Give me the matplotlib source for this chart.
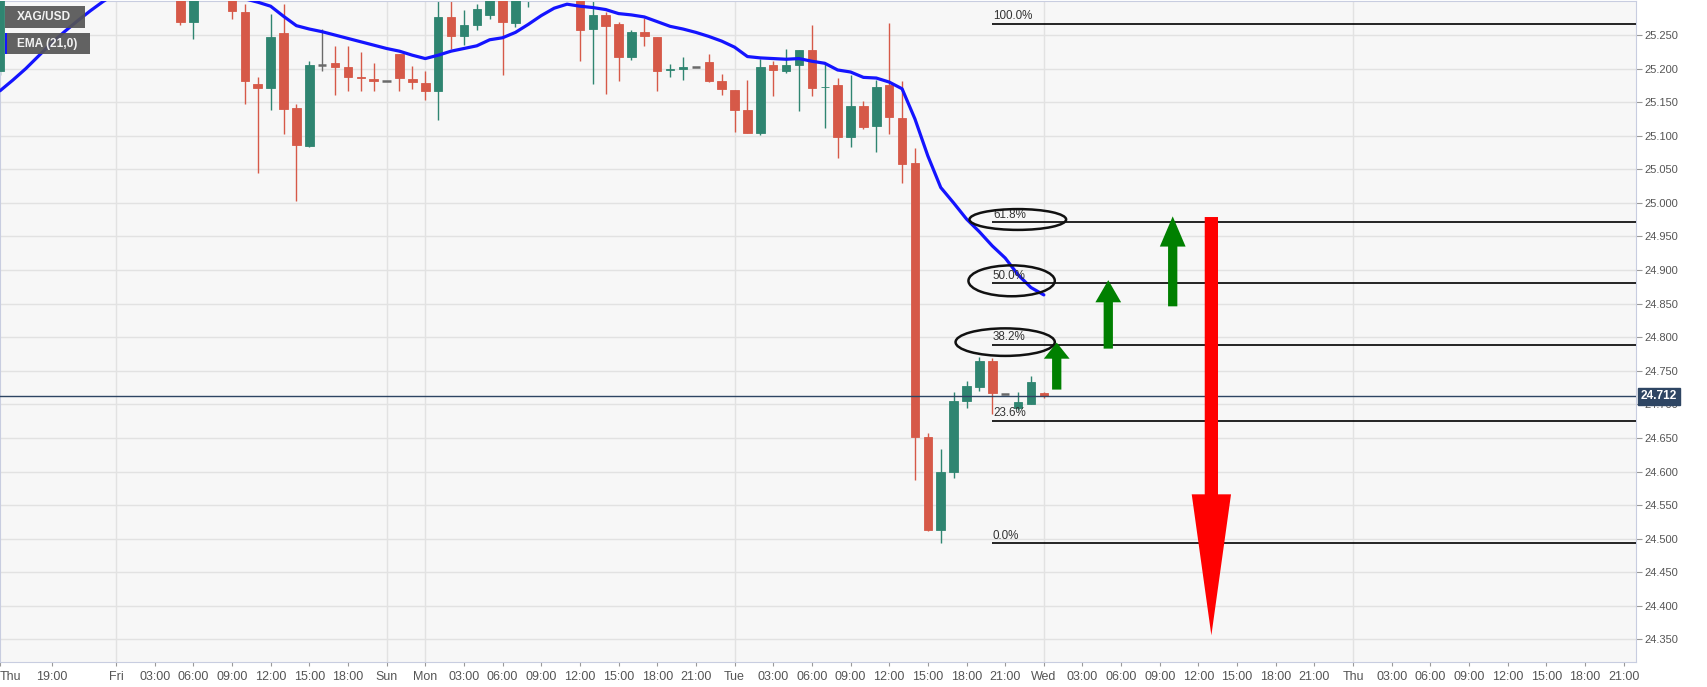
import matplotlib
matplotlib.use("Agg")
import matplotlib.pyplot as plt
from matplotlib.patches import Ellipse, FancyArrow, Rectangle

# hourly candles (x = hour index on the chart, weekend gap removed)
hours = [-1, 13, 14, 17, 18, 19, 20, 21, 22, 23, 24, 25, 26, 27, 28, 29, 30, 31,
         32, 33, 34, 35, 36, 37, 38, 39, 40, 44, 45, 46, 47, 48, 49, 50, 51, 52,
         53, 54, 55, 56, 57, 58, 59, 60, 61, 62, 63, 64, 65, 66, 67, 68, 69, 70,
         71, 72, 73, 74, 75, 76, 77, 78, 79, 80]
opens = [25.197, 25.320, 25.269, 25.310, 25.285, 25.177, 25.171, 25.253, 25.142,
         25.085, 25.205, 25.208, 25.203, 25.188, 25.185, 25.181, 25.222, 25.184,
         25.178, 25.167, 25.277, 25.249, 25.265, 25.280, 25.310, 25.268, 25.305,
         25.310, 25.259, 25.280, 25.266, 25.218, 25.255, 25.247, 25.198, 25.200,
         25.202, 25.210, 25.181, 25.168, 25.138, 25.104, 25.205, 25.196, 25.205,
         25.228, 25.172, 25.175, 25.098, 25.144, 25.115, 25.175, 25.126, 25.059,
         24.651, 24.513, 24.599, 24.705, 24.726, 24.764, 24.716, 24.695, 24.700,
         24.717]
highs = [25.320, 25.330, 25.325, 25.320, 25.297, 25.187, 25.281, 25.297, 25.147,
         25.212, 25.259, 25.233, 25.233, 25.225, 25.208, 25.181, 25.222, 25.204,
         25.196, 25.310, 25.302, 25.287, 25.296, 25.315, 25.320, 25.320, 25.320,
         25.320, 25.310, 25.284, 25.269, 25.257, 25.275, 25.247, 25.207, 25.217,
         25.202, 25.222, 25.192, 25.168, 25.183, 25.214, 25.212, 25.229, 25.228,
         25.265, 25.207, 25.186, 25.191, 25.152, 25.183, 25.268, 25.182, 25.082,
         24.658, 24.634, 24.719, 24.735, 24.770, 24.769, 24.716, 24.719, 24.742,
         24.719]
lows = [25.190, 25.265, 25.244, 25.274, 25.148, 25.044, 25.138, 25.102, 25.003,
        25.083, 25.196, 25.161, 25.166, 25.166, 25.166, 25.181, 25.166, 25.170,
        25.153, 25.123, 25.229, 25.235, 25.258, 25.274, 25.190, 25.262, 25.292,
        25.211, 25.177, 25.162, 25.182, 25.213, 25.234, 25.166, 25.188, 25.183,
        25.202, 25.180, 25.161, 25.106, 25.104, 25.101, 25.159, 25.194, 25.137,
        25.159, 25.111, 25.067, 25.083, 25.110, 25.076, 25.103, 25.030, 24.588,
        24.511, 24.493, 24.591, 24.695, 24.720, 24.686, 24.716, 24.691, 24.700,
        24.709]
closes = [25.310, 25.269, 25.315, 25.286, 25.181, 25.171, 25.247, 25.140, 25.086,
          25.205, 25.205, 25.203, 25.188, 25.186, 25.182, 25.181, 25.186, 25.180,
          25.166, 25.277, 25.249, 25.265, 25.289, 25.305, 25.270, 25.305, 25.315,
          25.258, 25.280, 25.264, 25.217, 25.254, 25.248, 25.197, 25.200, 25.203,
          25.202, 25.181, 25.170, 25.138, 25.104, 25.203, 25.198, 25.205, 25.228,
          25.171, 25.173, 25.098, 25.145, 25.113, 25.173, 25.128, 25.058, 24.651,
          24.513, 24.599, 24.705, 24.727, 24.764, 24.717, 24.716, 24.703, 24.733,
          24.712]

# EMA(21), one value per hour from -1 to 80
ema = [25.167, 25.183, 25.200, 25.219, 25.238, 25.255, 25.271, 25.286, 25.300,
       25.312, 25.321, 25.327, 25.330, 25.331, 25.330, 25.327, 25.322, 25.316,
       25.310, 25.304, 25.299, 25.293, 25.278, 25.264, 25.259, 25.255, 25.250,
       25.245, 25.240, 25.235, 25.230, 25.226, 25.220, 25.215, 25.220, 25.226,
       25.230, 25.234, 25.243, 25.246, 25.254, 25.266, 25.279, 25.290, 25.296,
       25.293, 25.291, 25.288, 25.282, 25.280, 25.277, 25.270, 25.263, 25.259,
       25.254, 25.248, 25.241, 25.232, 25.218, 25.216, 25.215, 25.214, 25.215,
       25.211, 25.208, 25.198, 25.195, 25.187, 25.186, 25.180, 25.170, 25.125,
       25.070, 25.023, 25.000, 24.976, 24.957, 24.936, 24.918, 24.893, 24.874,
       24.863]
ema_hours = list(range(-1, 81))

last_price = 24.712
fib_low, fib_high = 24.493, 25.267
fib_ratios = [0.0, 0.236, 0.382, 0.5, 0.618, 1.0]
fib_labels = ["0.0%", "23.6%", "38.2%", "50.0%", "61.8%", "100.0%"]
fib_start = 76
circled = [0.382, 0.5, 0.618]

# arrows: (hour, price from, price to, colour)
arrows = [(81, 24.722, 24.792, "#008000"),
          (85, 24.783, 24.885, "#008000"),
          (90, 24.846, 24.980, "#008000"),
          (93, 24.979, 24.356, "#ff0000")]

tick_hours = [-1, 3, 8, 11, 14, 17, 20, 23, 26, 29] + list(range(32, 126, 3))
tick_labels = (["Thu", "19:00", "Fri", "03:00", "06:00", "09:00", "12:00", "15:00", "18:00", "Sun"]
               + ["Mon", "03:00", "06:00", "09:00", "12:00", "15:00", "18:00", "21:00"]
               + ["Tue", "03:00", "06:00", "09:00", "12:00", "15:00", "18:00", "21:00"]
               + ["Wed", "03:00", "06:00", "09:00", "12:00", "15:00", "18:00", "21:00"]
               + ["Thu", "03:00", "06:00", "09:00", "12:00", "15:00", "18:00", "21:00"])
price_ticks = [24.35 + 0.05 * i for i in range(19)]

UP, DOWN, FLAT = "#2f8571", "#d65948", "#6a6a6a"
SANS = ["Liberation Sans", "DejaVu Sans"]

fig = plt.figure(figsize=(17.07, 6.87), dpi=100)
ax = fig.add_axes([0, 0.0368, 0.9584, 0.962])
ax.set_facecolor("#f7f7f7")
ax.set_xlim(-1.0, 125.95)
ax.set_ylim(24.3167, 25.301)

# grid
for p in price_ticks:
    ax.axhline(p, color="#e2e2e2", lw=1, zorder=0)
for h, lab in zip(tick_hours[1:], tick_labels[1:]):
    if not lab[0].isdigit():
        ax.axvline(h, color="#e2e2e2", lw=1, zorder=0)

# candles
for h, o, hi, lo, c in zip(hours, opens, highs, lows, closes):
    col = UP if c > o else DOWN if c < o else FLAT
    ax.vlines(h, lo, hi, color=col, lw=1, zorder=2)
    if c != o:
        ax.bar(h, abs(c - o), bottom=min(o, c), width=0.66, color=col,
               edgecolor=col, lw=0.6, zorder=3)
    else:
        ax.hlines(o, h - 0.33, h + 0.33, color=col, lw=1.8, zorder=3)

ax.plot(ema_hours, ema, color="#1414ff", lw=2.3, zorder=4, solid_capstyle="round")

ax.axhline(last_price, color="#2e4563", lw=1, zorder=5)

# fibonacci retracement
for r, lab in zip(fib_ratios, fib_labels):
    lvl = fib_low + r * (fib_high - fib_low)
    ax.hlines(lvl, fib_start, 126, color="black", lw=1.2, zorder=5)
    ax.annotate(lab, (fib_start, lvl), xytext=(0.5, 1), textcoords="offset points",
                ha="left", va="bottom", fontsize=8.4, color="#333333",
                family=SANS, zorder=6)

ell = {0.618: (77.98, 7.5, 0.031), 0.5: (77.5, 6.7, 0.046), 0.382: (77.0, 7.7, 0.041)}
for r in circled:
    cx, w, hgt = ell[r]
    lvl = fib_low + r * (fib_high - fib_low)
    ax.add_patch(Ellipse((cx, lvl + 0.004), w, hgt, fill=False, ec="#111111",
                         lw=1.8, zorder=6))

for h, y0, y1, col in arrows:
    big = col == "#ff0000"
    ax.add_patch(FancyArrow(h, y0, 0, y1 - y0, width=1.03 if big else 0.72,
                            head_width=3.05 if big else 2.0,
                            head_length=0.21 if big else (0.024 if y1 - y0 < 0.08 else 0.033 if y1 - y0 < 0.11 else 0.045),
                            length_includes_head=True, color=col, lw=0, zorder=7))

# axes styling
for s in ax.spines.values():
    s.set_color("#c8cde0")
ax.yaxis.tick_right()
ax.set_yticks(price_ticks)
ax.set_yticklabels([f"{p:.3f}" for p in price_ticks])
ax.tick_params(axis="y", length=4, color="#999999", labelcolor="#555555",
               labelsize=8, pad=2)
ax.set_xticks(tick_hours)
ax.set_xticklabels(tick_labels)
ax.tick_params(axis="x", length=3, color="#999999", labelcolor="#555555",
               labelsize=9, pad=4)
for t in ax.get_yticklabels():
    t.set_family(SANS)
for t in ax.get_xticklabels():
    t.set_family(["Liberation Sans Narrow", "Liberation Sans", "DejaVu Sans"])
ax.get_xticklabels()[0].set_ha("left")

# last price tag
ax.text(1.003, last_price, f"{last_price:.3f}", transform=ax.get_yaxis_transform(),
        ha="left", va="center", fontsize=8.6, color="white", weight="bold",
        family=SANS,
        bbox=dict(boxstyle="square,pad=0.22", fc="#2e4563", ec="#2e4563"), zorder=8)

# legend boxes
H = 661.7
W = 1636
ax.add_patch(Rectangle((5 / W, 1 - 27 / H), 80 / W, 22 / H, transform=ax.transAxes,
                       fc="#555555", ec="none", alpha=0.92, zorder=9))
ax.add_patch(Rectangle((5 / W, 1 - 53 / H), 85 / W, 21 / H, transform=ax.transAxes,
                       fc="#555555", ec="none", alpha=0.92, zorder=9))
ax.add_patch(Rectangle((5 / W, 1 - 53 / H), 2.5 / W, 21 / H, transform=ax.transAxes,
                       fc="#1414ff", ec="none", zorder=10))
ax.text(17 / W, 1 - 16.5 / H, "XAG/USD", transform=ax.transAxes, ha="left", va="center",
        fontsize=8.6, weight="bold", color="#f2f2f2", family=SANS, zorder=10)
ax.text(17 / W, 1 - 43 / H, "EMA (21,0)", transform=ax.transAxes, ha="left", va="center",
        fontsize=8.6, weight="bold", color="#f2f2f2", family=SANS, zorder=10)

fig.savefig("out.png", dpi=100, facecolor="white")
